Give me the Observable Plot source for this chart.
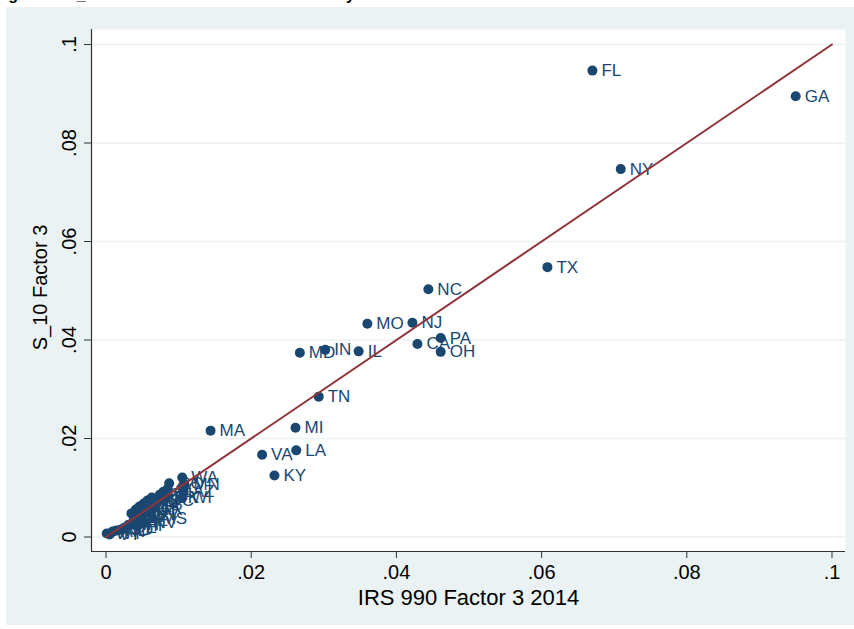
<!DOCTYPE html>
<html>
<head>
<meta charset="utf-8">
<script src="https://cdn.jsdelivr.net/npm/d3@7"></script>
<script src="https://cdn.jsdelivr.net/npm/@observablehq/plot@0.6"></script>
<style>
  html, body { margin: 0; padding: 0; background: #ffffff; width: 854px; height: 629px; overflow: hidden; }
  #title {
    position: absolute; left: -6px; top: -14px; white-space: nowrap;
    font: bold 16px "Liberation Sans", Arial, sans-serif; color: #000;
  }
  #graph {
    position: absolute; left: 6px; top: 7px; width: 848px; height: 618px;
    background: #eaf2f3;
  }
  #graph svg { display: block; }
</style>
</head>
<body>
<div id="title">Figure 3: S_10 Factor 3 and IRS 990 Factor 3 by State 2014</div>
<div id="graph"></div>
<script>
// State shares of Factor 3: IRS 990 (2014) vs. S_10
const states = [
  "FL", "GA", "NY", "TX", "NC", "MO", "NJ", "PA", "CA", "OH",
  "MD", "IN", "IL", "TN", "MA", "MI", "LA", "VA", "KY",
  "WA", "MN", "AZ", "WI", "CO", "SC", "AL", "OK", "CT", "DC",
  "WY", "VT", "AK", "ND", "SD", "DE", "MT", "RI", "ME", "NH",
  "HI", "ID", "NE", "WV", "NM", "NV", "UT", "KS", "AR", "OR", "MS", "IA"
];
const irsFactor3 = [
  0.0670, 0.0950, 0.0709, 0.0608, 0.0444, 0.0360, 0.0422, 0.0461, 0.0429, 0.0461,
  0.0267, 0.0302, 0.0348, 0.0293, 0.0144, 0.0261, 0.0262, 0.0215, 0.0232,
  0.0105, 0.0108, 0.0107, 0.0105, 0.0087, 0.0085, 0.0079, 0.0082, 0.0074, 0.0075,
  0.0001, 0.0005, 0.0009, 0.0014, 0.0020, 0.0025, 0.0031, 0.0035, 0.0038, 0.0041,
  0.0042, 0.0045, 0.0046, 0.0050, 0.0052, 0.0053, 0.0056, 0.0057, 0.0061, 0.0063, 0.0064, 0.0067
];
const s10Factor3 = [
  0.0947, 0.0895, 0.0747, 0.0548, 0.0503, 0.0433, 0.0435, 0.0404, 0.0392, 0.0376,
  0.0374, 0.0380, 0.0377, 0.0285, 0.0216, 0.0222, 0.0176, 0.0167, 0.0125,
  0.0121, 0.0107, 0.0092, 0.0080, 0.0109, 0.0098, 0.0092, 0.0080, 0.0086, 0.0074,
  0.0007, 0.0005, 0.0011, 0.0013, 0.0015, 0.0019, 0.0025, 0.0048, 0.0034, 0.0056,
  0.0023, 0.0040, 0.0062, 0.0046, 0.0068, 0.0029, 0.0050, 0.0074, 0.0056, 0.0080, 0.0038, 0.0062
];
// Equality line y = x, drawn between these two values
const equalityLine = [0, 0.1];
const xTicks = [0, 0.02, 0.04, 0.06, 0.08, 0.1];
const yTicks = [0, 0.02, 0.04, 0.06, 0.08, 0.1];
const xTitle = "IRS 990 Factor 3 2014";
const yTitle = "S_10 Factor 3";

const rows = states.map((s, i) => ({state: s, irs: irsFactor3[i], s10: s10Factor3[i]}));
const fmt = d => d === 0 ? "0" : String(d).replace(/^0/, "");

const navy = "#1a476f";
const maroon = "#90353b";
const font = "'Liberation Sans', Arial, sans-serif";
const xDomain = [-0.0020, 0.10186];
const yDomain = [-0.00294, 0.10305];

const chart = Plot.plot({
  width: 848,
  height: 618,
  marginLeft: 85,
  marginRight: 9,
  marginTop: 22,
  marginBottom: 74,
  style: {background: "transparent", fontFamily: font, color: "#000", overflow: "visible"},
  x: {domain: xDomain},
  y: {domain: yDomain},
  marks: [
    Plot.frame({fill: "#ffffff", stroke: null}),
    Plot.gridY(yTicks, {stroke: "#eaf2f3", strokeOpacity: 1, strokeWidth: 1.5}),
    Plot.ruleX([xDomain[0]], {stroke: "#333", strokeWidth: 1.2}),
    Plot.ruleY([yDomain[0]], {stroke: "#333", strokeWidth: 1.2}),
    Plot.axisX(xTicks, {
      tickFormat: fmt, tickSize: 7, tickPadding: 6, fontSize: 20,
      stroke: "#333", label: null
    }),
    Plot.axisY(yTicks, {
      tickFormat: fmt, tickSize: 7, tickRotate: -90, tickPadding: 9, fontSize: 20,
      stroke: "#333", label: null
    }),
    Plot.text([xTitle], {
      frameAnchor: "bottom", textAnchor: "middle", lineAnchor: "middle",
      dy: 46, fontSize: 22, fill: "#000"
    }),
    Plot.text([yTitle], {
      frameAnchor: "left", textAnchor: "middle", lineAnchor: "middle",
      dx: -51, dy: -3, rotate: -90, fontSize: 20, fill: "#000"
    }),
    Plot.dot(rows, {x: "irs", y: "s10", r: 5, fill: navy, stroke: null}),
    Plot.text(rows, {
      x: "irs", y: "s10", text: "state", textAnchor: "start", dx: 9,
      fontSize: 17, fill: navy
    }),
    Plot.line(equalityLine, {x: d => d, y: d => d, stroke: maroon, strokeWidth: 2})
  ]
});
document.getElementById("graph").appendChild(chart);
</script>
</body>
</html>
